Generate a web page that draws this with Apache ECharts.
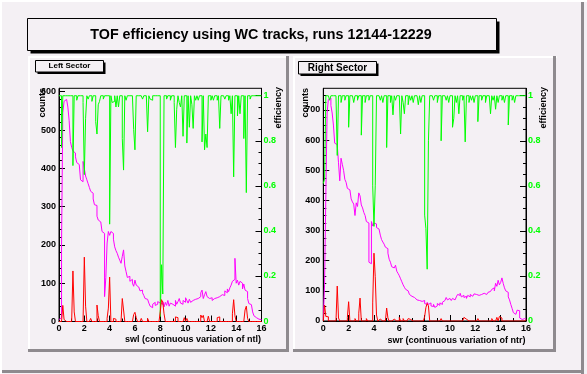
<!DOCTYPE html>
<html><head><meta charset="utf-8">
<script src="https://cdn.jsdelivr.net/npm/echarts@6/dist/echarts.min.js"></script>
<style>html,body{margin:0;padding:0;background:#f4f0f4}#c{width:587px;height:374px}</style>
</head><body><div id="c"></div>
<script>
var titleText = 'TOF efficiency using WC tracks, runs 12144-12229';
var padLabels = ['Left Sector', 'Right Sector'];
var xTitles = ['swl (continuous variation of ntl)', 'swr (continuous variation of ntr)'];
var binWidth = 0.1;

var leftMagenta = [5,10,200,545,575,580,578,560,525,470,
 455,445,440,430,415,410,405,370,365,418,
 400,380,370,360,350,340,335,320,305,303,
 275,265,260,255,235,230,65,115,205,235,
 225,235,230,215,195,185,178,168,160,152,
 170,187,145,130,115,118,105,110,100,92,
 108,95,90,85,80,82,75,68,60,58,
 55,48,40,36,45,50,42,45,52,48,
 48,45,52,38,50,42,55,40,48,45,
 50,40,55,45,52,60,48,45,55,50,
 62,55,48,58,50,55,52,58,55,60,
 58,65,75,82,60,70,78,65,60,58,
 62,55,60,58,62,58,65,62,70,72,
 68,80,75,85,78,88,95,105,110,165,
 100,108,95,105,100,85,98,82,78,60,
 47,44,42,25,15,10,8,6,8,5];
var leftRed = [0,0,0,42,5,0,0,0,0,0,
 0,132,25,0,0,0,0,0,0,0,
 168,40,0,0,0,8,0,0,0,0,
 43,15,0,0,0,0,0,0,8,35,
 116,0,0,8,6,0,0,0,0,0,
 60,30,0,0,0,0,0,0,0,18,
 24,10,0,0,0,8,0,0,0,0,
 8,0,0,0,0,0,0,0,0,0,
 25,57,50,20,0,0,0,0,0,0,
 0,0,12,10,0,0,0,0,0,10,
 0,8,0,0,0,0,0,0,0,0,
 0,0,17,10,16,0,0,0,14,0,
 0,0,0,0,0,10,12,0,0,0,
 0,0,0,0,0,0,0,20,57,15,
 0,0,0,0,0,0,0,30,40,8,
 0,0,0,0,5,0,0,0,0,0];
var leftEff = [1,1,0.77,1,1,1,1,1,1,1,
 1,0.69,1,1,0.98,1,1,1,1,0.97,
 0.65,0.90,1,0.985,1,1,0.975,1,1,0.885,
 0.83,0.96,0.975,1,1,0.985,1,1,1,1,
 0.43,1,0.97,0.975,1,0.95,1,0.95,1,1,
 0.81,0.67,1,0.98,1,1,1,1,1,0.85,
 0.76,1,1,1,1,1,0.985,1,1,1,
 0.84,1,0.985,0.98,1,1,1,1,1,1,
 0.02,0.25,0.12,1,1,0.985,1,1,0.98,1,
 1,0.97,0.77,0.94,1,0.97,0.95,1,0.82,1,
 1,0.79,1,0.86,1,0.96,0.855,1,0.98,1,
 0.98,1,1,0.795,1,0.76,0.83,0.77,1,1,
 0.98,1,0.98,1,1,0.98,1,0.855,1,1,
 1,0.985,1,1,0.98,1,0.92,1,0.64,1,
 1,0.91,1,0.92,1,1,0.81,1,0.57,1,
 1,0.985,1,1,1,1,1,1,1,1];

var rightMagenta = [5,120,420,690,735,740,715,690,650,590,
 585,590,525,465,540,520,500,470,460,440,
 435,430,405,395,388,350,392,380,425,415,
 385,375,360,350,330,325,195,190,330,315,
 325,322,310,305,300,285,270,262,255,245,
 240,225,205,195,180,176,172,185,165,158,
 150,140,130,120,112,105,100,95,88,82,
 85,78,72,70,75,68,72,65,62,68,
 58,55,62,55,60,50,48,55,45,50,
 58,52,60,55,62,68,72,78,70,75,
 72,68,75,70,72,80,88,85,92,80,
 85,78,82,75,85,80,88,82,85,90,
 88,92,85,90,88,85,92,95,88,92,
 95,98,92,105,110,100,125,115,135,120,
 128,143,125,110,100,95,80,70,55,42,
 28,22,20,36,34,10,5,3,8,6];
var rightRed = [0,53,15,14,0,0,0,0,0,0,
 0,116,10,0,0,0,0,0,0,12,
 64,0,0,0,0,8,0,0,26,76,
 0,0,0,0,8,0,0,0,0,60,
 225,147,20,0,6,0,0,0,0,0,
 43,10,0,0,0,6,0,0,0,0,
 12,0,0,8,0,0,0,8,5,0,
 0,0,0,6,0,0,0,0,0,0,
 15,45,58,50,0,0,0,0,0,0,
 0,0,0,8,0,0,0,0,0,0,
 0,0,0,0,0,0,0,0,0,0,
 0,12,6,0,0,0,0,0,0,0,
 0,0,8,0,0,0,0,0,0,0,
 0,0,0,8,0,0,0,12,0,15,
 10,0,0,6,0,0,0,0,0,0,
 0,0,0,0,0,0,0,0,0,5];
var rightEff = [0.61,0.63,1,1,1,0.98,1,1,1,1,
 1,0.735,1,1,0.97,1,1,0.98,1,1,
 0.86,1,1,1,0.97,1,1,0.98,1,1,
 0.825,1,1,0.97,1,1,0.98,1,1,0.6,
 0.42,0.6,1,1,1,0.98,1,0.97,1,1,
 0.77,1,1,0.97,1,0.915,1,0.98,1,1,
 1,0.83,1,0.97,0.92,1,1,0.96,1,0.98,
 1,0.97,1,1,1,0.96,1,0.97,1,1,
 0.47,0.41,0.23,0.8,1,1,1,0.98,1,1,
 0.97,1,1,0.8,1,1,1,0.98,1,0.97,
 1,1,0.86,0.9,1,0.97,1,0.92,1,1,
 0.98,1,0.795,1,1,0.97,1,0.98,1,0.97,
 1,1,0.885,1,1,0.98,1,1,0.97,1,
 1,1,0.92,1,0.98,1,0.94,1,0.97,1,
 1,0.98,1,0.97,1,1,0.87,1,1,0.98,
 1,0.97,1,1,1,1,1,1,1,1];

var countTicksLeft = [0,100,200,300,400,500,600];
var countTicksRight = [0,100,200,300,400,500,600,700];
var effTicks = [0,0.2,0.4,0.6,0.8,1];

var BG = '#f4f0f4';
var FONT = '"Liberation Sans", Arial, sans-serif';

function hist(arr) {
  var pts = arr.map(function (v, i) { return [+(i * binWidth).toFixed(2), v]; });
  pts.push([+(arr.length * binWidth).toFixed(2), arr[arr.length - 1]]);
  return pts;
}
function range(a, b, s) { var r = []; for (var v = a; v <= b + 1e-9; v += s) r.push(+v.toFixed(4)); return r; }

var lbl = { fontFamily: FONT, fontWeight: 'bold', fontSize: 9, color: '#000' };

function xAxis(g) {
  return { gridIndex: g, type: 'value', min: 0, max: 16, interval: 2,
    axisLine: { lineStyle: { color: '#000', width: 1 } },
    axisTick: { inside: true, length: 6, lineStyle: { color: '#000' } },
    minorTick: { show: true, splitNumber: 2, length: 3, lineStyle: { color: '#000' } },
    splitLine: { show: false }, minorSplitLine: { show: false },
    axisLabel: Object.assign({ margin: 3 }, lbl) };
}
function countAxis(g, max, ticks) {
  return { gridIndex: g, type: 'value', position: 'left', min: 0, max: max,
    axisLine: { show: true, lineStyle: { color: '#000' } },
    axisTick: { show: true, inside: true, length: 6, customValues: ticks, lineStyle: { color: '#000' } },
    splitLine: { show: false },
    axisLabel: Object.assign({ margin: 3, customValues: ticks }, lbl) };
}
function minorAxis(g, pos, min, max, vals) {
  return { gridIndex: g, type: 'value', position: pos, min: min, max: max,
    axisLine: { show: false }, splitLine: { show: false },
    axisTick: { show: true, inside: true, length: 3, customValues: vals, lineStyle: { color: '#000' } },
    axisLabel: { show: false } };
}
function effAxis(g, min, max) {
  return { gridIndex: g, type: 'value', position: 'right', min: min, max: max,
    axisLine: { show: true, lineStyle: { color: '#000' } },
    axisTick: { show: true, inside: true, length: 6, customValues: effTicks, lineStyle: { color: '#000' } },
    splitLine: { show: false },
    axisLabel: { margin: 2, customValues: effTicks, fontFamily: FONT, fontWeight: 'bold', fontSize: 9, color: '#00ff00',
      formatter: function (v) { return String(+(+v).toFixed(2)); } } };
}
function line(name, data, xi, yi, color, z) {
  return { name: name, type: 'line', step: 'end', xAxisIndex: xi, yAxisIndex: yi, data: hist(data),
    symbol: 'none', showSymbol: false, animation: false, z: z,
    lineStyle: { color: color, width: 1 }, emphasis: { disabled: true } };
}

var effMin0 = -0.002, effMax0 = 1.033;
var effMin1 = 0, effMax1 = 1.033;

function textEl(x, y, t, size, align, rot, color) {
  return { type: 'text', x: x, y: y, rotation: rot || 0, z: 100,
    style: { text: t, x: 0, y: 0, fill: color || '#000', font: 'bold ' + size + 'px ' + FONT,
      align: align, textAlign: align, verticalAlign: 'middle', textVerticalAlign: 'middle' } };
}
function rect(x, y, w, h, fill, stroke, z) {
  return { type: 'rect', z: z || 0, shape: { x: x, y: y, width: w, height: h },
    style: { fill: fill, stroke: stroke || null, lineWidth: 1 } };
}

var graphics = [
  // canvas bevel
  rect(0, 0, 587, 2, '#ffffff'), rect(0, 0, 2, 374, '#ffffff'),
  rect(581, 2, 3, 372, '#8e8a8e'), rect(2, 370, 582, 3, '#8e8a8e'),
  // title box
  rect(30.5, 21.5, 469, 32, '#000'),
  rect(27.5, 18.5, 469, 32, BG, '#000', 1),
  textEl(261, 35, titleText, 14.3, 'center'),
  // left pad bevel
  rect(28, 56, 261, 2, '#ffffff'), rect(28, 56, 2, 296, '#ffffff'),
  rect(286, 56, 3, 296, '#8e8a8e'), rect(28, 349, 261, 3, '#8e8a8e'),
  // right pad bevel
  rect(293, 56, 264, 2, '#ffffff'), rect(293, 56, 2, 296, '#ffffff'),
  rect(553, 56, 3, 296, '#8e8a8e'), rect(293, 349, 263, 3, '#8e8a8e'),
  // pad labels
  rect(37.5, 62.5, 68, 11.5, '#000'), rect(35.5, 60.5, 68, 11.5, BG, '#000', 1),
  textEl(69.5, 66, padLabels[0], 8, 'center'),
  rect(300.5, 63.5, 78, 12.5, '#000'), rect(298.5, 61.5, 78, 12.5, BG, '#000', 1),
  textEl(337.5, 68, padLabels[1], 10, 'center'),
  // axis titles
  textEl(42.5, 88, 'counts', 9, 'right', Math.PI / 2),
  textEl(279, 87, 'efficiency', 9, 'right', Math.PI / 2),
  textEl(305.5, 88, 'counts', 9, 'right', Math.PI / 2),
  textEl(543.5, 87, 'efficiency', 9, 'right', Math.PI / 2),
  textEl(261, 340, xTitles[0], 9, 'right'),
  textEl(525.5, 340.5, xTitles[1], 9, 'right')
];

var chart = echarts.init(document.getElementById('c'), null, { renderer: 'canvas' });
chart.setOption({
  backgroundColor: BG,
  animation: false,
  grid: [
    { left: 59, top: 88.3, width: 202.5, height: 233.2, show: true, borderColor: '#000', borderWidth: 1, backgroundColor: 'rgba(0,0,0,0)' },
    { left: 323.3, top: 88.3, width: 202.7, height: 232.7, show: true, borderColor: '#000', borderWidth: 1, backgroundColor: 'rgba(0,0,0,0)' }
  ],
  xAxis: [xAxis(0), xAxis(1)],
  yAxis: [
    countAxis(0, 609, countTicksLeft),
    minorAxis(0, 'left', 0, 609, range(0, 600, 20)),
    effAxis(0, effMin0, effMax0),
    minorAxis(0, 'right', effMin0, effMax0, range(0, 1, 0.05)),
    countAxis(1, 772, countTicksRight),
    minorAxis(1, 'left', 0, 772, range(0, 750, 25)),
    effAxis(1, effMin1, effMax1),
    minorAxis(1, 'right', effMin1, effMax1, range(0, 1, 0.05))
  ],
  graphic: { elements: graphics },
  series: [
    line('left counts', leftMagenta, 0, 0, '#ff00ff', 2),
    line('left efficiency', leftEff, 0, 2, '#00ff00', 3),
    line('left red', leftRed, 0, 0, '#ff0000', 4),
    line('right counts', rightMagenta, 1, 4, '#ff00ff', 2),
    line('right efficiency', rightEff, 1, 6, '#00ff00', 3),
    line('right red', rightRed, 1, 4, '#ff0000', 4)
  ]
});
</script></body></html>
